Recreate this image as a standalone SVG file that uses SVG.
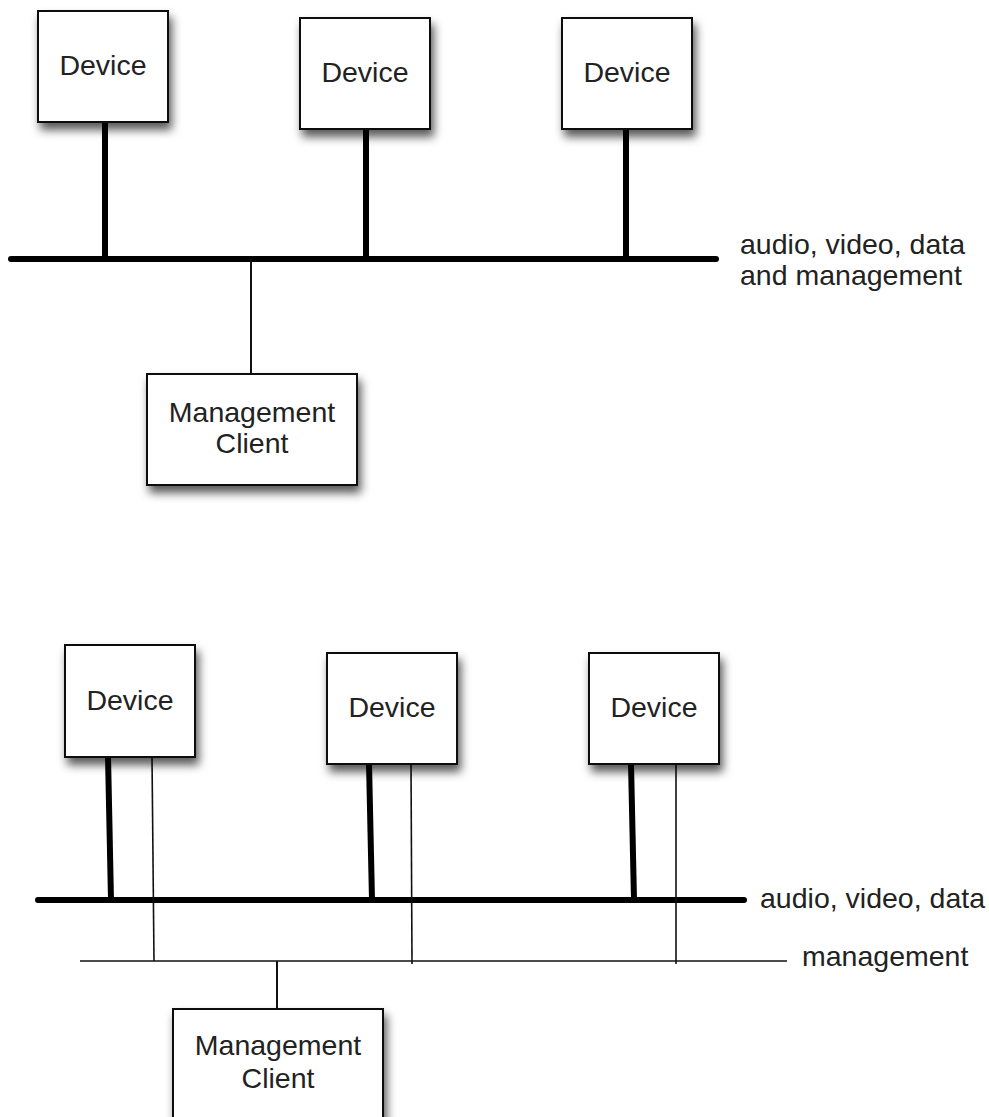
<svg xmlns="http://www.w3.org/2000/svg" width="989" height="1117" viewBox="0 0 989 1117">
  <style>
    .box { fill: #ffffff; stroke: #111111; stroke-width: 2; filter: url(#shadow); }
    .lbl { font-family: "Liberation Sans", Arial, Helvetica, sans-serif; font-size: 28.5px; fill: #222222; }
    .mid { text-anchor: middle; }
    .bus { stroke: #000000; stroke-width: 6; stroke-linecap: round; fill: none; }
    .thin { stroke: #111111; stroke-width: 1.6; fill: none; }
  </style>
  <defs>
    <filter id="shadow" x="-25%" y="-25%" width="160%" height="160%">
      <feDropShadow dx="3" dy="7" stdDeviation="5" flood-color="#000000" flood-opacity="0.65"/>
    </filter>
  </defs>
  <rect width="989" height="1117" fill="#ffffff"/>

  <!-- Shared bus: audio, video, data and management -->
  <g id="connectors-shared">
    <line class="bus" x1="105" y1="122" x2="105" y2="258" style="stroke-linecap:butt"/>
    <line class="bus" x1="366" y1="129" x2="366" y2="258" style="stroke-linecap:butt"/>
    <line class="bus" x1="626" y1="129" x2="626" y2="258" style="stroke-linecap:butt"/>
    <line class="bus" x1="11" y1="259" x2="716" y2="259"/>
    <line class="thin" x1="251" y1="259" x2="251" y2="374" style="stroke-width:2"/>
  </g>

  <g id="shared-device-1">
    <rect class="box" x="38" y="11" width="130" height="111"/>
    <text class="lbl mid" x="103" y="75">Device</text>
  </g>
  <g id="shared-device-2">
    <rect class="box" x="300" y="18" width="130" height="111"/>
    <text class="lbl mid" x="365" y="82">Device</text>
  </g>
  <g id="shared-device-3">
    <rect class="box" x="562" y="18" width="130" height="111"/>
    <text class="lbl mid" x="627" y="82">Device</text>
  </g>
  <g id="shared-client">
    <rect class="box" x="147" y="374" width="210" height="111"/>
    <text class="lbl mid" x="252" y="422">Management</text>
    <text class="lbl mid" x="252" y="453">Client</text>
  </g>
  <g id="shared-label">
    <text class="lbl" x="740" y="254">audio, video, data</text>
    <text class="lbl" x="740" y="285">and management</text>
  </g>

  <!-- Separate buses: media/data and management -->
  <g id="connectors-split">
    <line class="bus" x1="108" y1="756" x2="111" y2="900" style="stroke-linecap:butt"/>
    <line class="bus" x1="369" y1="763" x2="372" y2="900" style="stroke-linecap:butt"/>
    <line class="bus" x1="631" y1="763" x2="634" y2="900" style="stroke-linecap:butt"/>
    <line class="bus" x1="38" y1="900" x2="744" y2="900"/>
    <line class="thin" x1="152" y1="757" x2="154" y2="961"/>
    <line class="thin" x1="411" y1="764" x2="412" y2="964"/>
    <line class="thin" x1="676" y1="764" x2="676" y2="964"/>
    <line class="thin" x1="80" y1="961" x2="787" y2="961"/>
    <line class="thin" x1="277" y1="961" x2="277" y2="1009" style="stroke-width:2"/>
  </g>

  <g id="split-device-1">
    <rect class="box" x="65" y="645" width="130" height="112"/>
    <text class="lbl mid" x="130" y="710">Device</text>
  </g>
  <g id="split-device-2">
    <rect class="box" x="327" y="653" width="130" height="111"/>
    <text class="lbl mid" x="392" y="717">Device</text>
  </g>
  <g id="split-device-3">
    <rect class="box" x="589" y="653" width="130" height="111"/>
    <text class="lbl mid" x="654" y="717">Device</text>
  </g>
  <g id="split-client">
    <rect class="box" x="173" y="1009" width="210" height="130"/>
    <text class="lbl mid" x="278" y="1055">Management</text>
    <text class="lbl mid" x="278" y="1088">Client</text>
  </g>
  <g id="split-labels">
    <text class="lbl" x="760" y="908">audio, video, data</text>
    <text class="lbl" x="802" y="966">management</text>
  </g>
</svg>
